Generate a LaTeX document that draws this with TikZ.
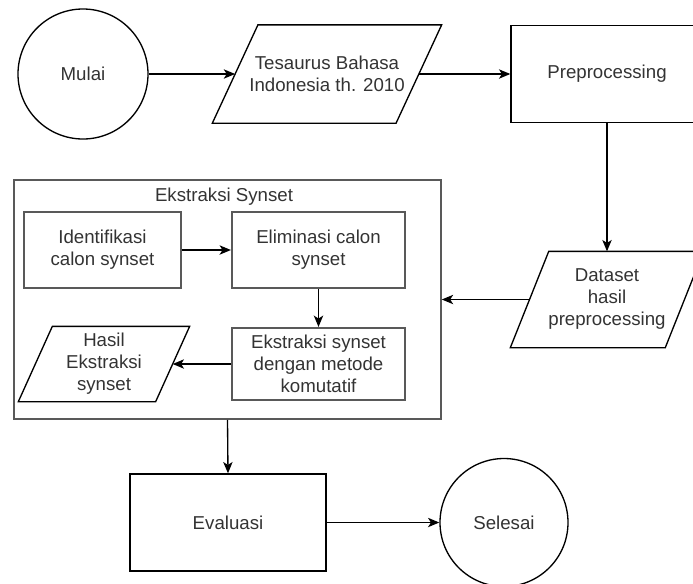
\documentclass[tikz,border=0pt]{standalone}
\usepackage{fontspec}
\setmainfont{Liberation Sans}
\usetikzlibrary{arrows.meta}

\definecolor{textgray}{RGB}{51,51,51}
\definecolor{boxgray}{RGB}{89,89,89}

\tikzset{every picture/.style={line width=1pt}}
\tikzset{
  txt/.style={align=center, text=textgray, font=\fontsize{14}{16.5}\selectfont},
  term/.style={circle, draw, inner sep=0pt, txt},
  proc/.style={rectangle, draw, inner sep=0pt, txt},
  subproc/.style={rectangle, draw=boxgray, line width=1.6pt, inner sep=0pt, txt},
  para/.style={rectangle, inner sep=0pt, txt},
  arrow/.style={-{Stealth[length=8.5pt,width=7pt,inset=2.2pt]}},
}
% parallelogram outline round a named node: #1 node, #2 slant
\newcommand{\drawpara}[2]{\draw ([xshift=#2]#1.north west) -- (#1.north east) -- ([xshift=-#2]#1.south east) -- (#1.south west) -- cycle;}

\begin{document}
\begin{tikzpicture}[x=0.75pt,y=0.75pt,yscale=-1,xscale=1]
\useasboundingbox (0,0) rectangle (693,583);

%Top row
\node[term, minimum size=97.5pt] (mulai) at (83,74) {Mulai};
\node[para, minimum width=171pt, minimum height=72.75pt] (tesaurus) at (327,74) {Tesaurus Bahasa\\Indonesia th. 2010};
\drawpara{tesaurus}{34.2pt}
\node[proc, minimum width=144pt, minimum height=72.75pt] (prep) at (607,74) {Preprocessing};

%Dataset
\node[para, minimum width=144pt, minimum height=71.25pt] (dataset) at (607,299.5) {Dataset\\hasil\\preprocessing};
\drawpara{dataset}{28.8pt}

%Ekstraksi Synset group
\node[draw=boxgray, line width=1.2pt, minimum width=320.25pt, minimum height=179.25pt] (synset) at (227.5,299.5) {};
\node[txt] (title) at (224,197) {Ekstraksi Synset};
\node[subproc, minimum width=117.75pt, minimum height=57pt] (ident) at (102.5,250) {Identifikasi\\calon synset};
\node[subproc, minimum width=129.75pt, minimum height=57pt] (elim) at (318.5,250) {Eliminasi calon\\synset};
\node[subproc, minimum width=129.75pt, minimum height=54pt] (ekstr) at (318.5,364) {Ekstraksi synset\\dengan metode\\komutatif};
\node[para, minimum width=127.5pt, minimum height=55.5pt] (hasil) at (104,364) {Hasil\\Ekstraksi\\synset};
\drawpara{hasil}{25.5pt}

%Bottom row
\node[proc, minimum width=147pt, minimum height=72.75pt] (eval) at (228,522.5) {Evaluasi};
\node[term, minimum size=96pt] (selesai) at (504,522.5) {Selesai};

%Straight Lines
\draw[arrow] (mulai) -- ([xshift=17.1pt]tesaurus.west);
\draw[arrow] ([xshift=-17.1pt]tesaurus.east) -- (prep);
\draw[arrow] (prep) -- (dataset);
\draw[arrow] ([xshift=14.4pt]dataset.west) -- (synset);
\draw[arrow] (ident) -- (elim);
\draw[arrow] (elim) -- (ekstr);
\draw[arrow] (ekstr) -- ([xshift=-12.75pt]hasil.east);
\draw[arrow] (synset.south) -- (eval.north);
\draw[arrow] (eval) -- (selesai);

\end{tikzpicture}
\end{document}
